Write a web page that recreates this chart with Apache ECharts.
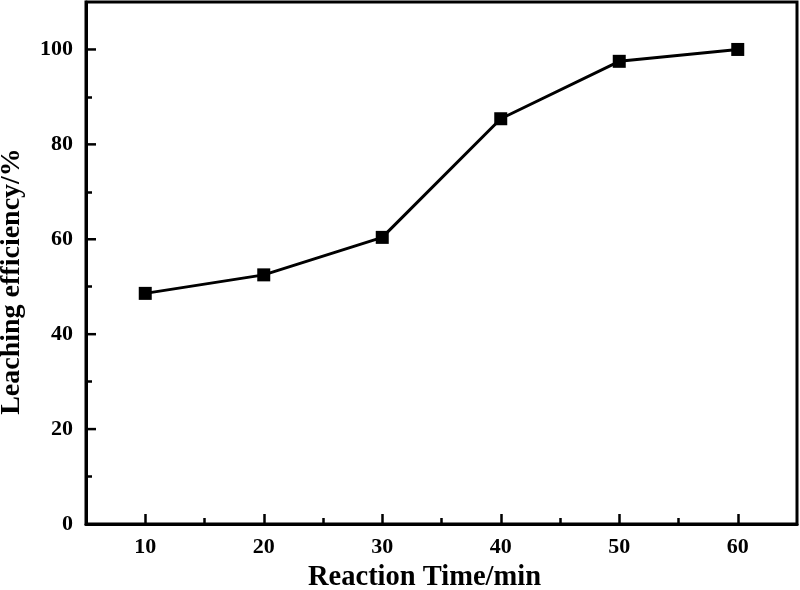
<!DOCTYPE html>
<html>
<head>
<meta charset="utf-8">
<script src="https://cdn.jsdelivr.net/npm/echarts@6/dist/echarts.min.js"></script>
<style>html,body{margin:0;padding:0;background:#fff}#c{width:800px;height:590px}</style>
</head>
<body>
<div id="c"></div>
<script>
var times = [10, 20, 30, 40, 50, 60];
var efficiency = [48.6, 52.5, 60.4, 85.4, 97.5, 100.0];
var xMajorTicks = [10, 20, 30, 40, 50, 60];
var xMinorTicks = [15, 25, 35, 45, 55];
var yLabelValues = [0, 20, 40, 60, 80, 100];
var yMajorTicks = [20, 40, 60, 80, 100];
var yMinorTicks = [10, 30, 50, 70, 90];
var xTitle = 'Reaction Time/min';
var yTitle = 'Leaching efficiency/%';

var font = '"Liberation Serif", "Times New Roman", serif';
var labelStyle = {fontFamily: font, fontWeight: 'bold', fontSize: 22, color: '#000'};
function tickAxis(pos, min, max, values, len) {
  return {
    type: 'value', min: min, max: max, position: pos,
    axisLine: {show: false},
    axisTick: {show: true, inside: true, length: len, lineStyle: {color: '#000', width: 2.5},
      customValues: values},
    axisLabel: {show: false},
    splitLine: {show: false}
  };
}
var chart = echarts.init(document.getElementById('c'), null, {renderer: 'canvas'});
chart.setOption({
  animation: false,
  backgroundColor: '#fff',
  grid: {left: 86, right: 3, top: 2, bottom: 66, show: true, borderColor: '#000', borderWidth: 3,
    outerBoundsMode: 'none', containLabel: false},
  xAxis: [{
    type: 'value', min: 5, max: 65, interval: 10,
    name: xTitle, nameLocation: 'middle', nameGap: 39,
    nameTextStyle: {fontFamily: font, fontWeight: 'bold', fontSize: 28.5, color: '#000', padding: [0, 34, 0, 0]},
    axisLine: {show: true, onZero: false, lineStyle: {color: '#000', width: 3}},
    axisTick: {show: true, inside: true, length: 10, lineStyle: {color: '#000', width: 2.5},
      customValues: xMajorTicks},
    axisLabel: Object.assign({margin: 12, customValues: xMajorTicks}, labelStyle),
    splitLine: {show: false}
  }, tickAxis('bottom', 5, 65, xMinorTicks, 6)],
  yAxis: [{
    type: 'value', min: 0, max: 110, interval: 10,
    name: yTitle, nameLocation: 'middle', nameGap: 60,
    nameTextStyle: {fontFamily: font, fontWeight: 'bold', fontSize: 28, color: '#000', padding: [0, 37, 0, 0]},
    axisLine: {show: true, onZero: false, lineStyle: {color: '#000', width: 3}},
    axisTick: {show: false},
    axisLabel: Object.assign({margin: 13, customValues: yLabelValues}, labelStyle),
    splitLine: {show: false}
  }, tickAxis('left', 0, 110, yMinorTicks, 6)],
  series: [{
    type: 'custom',
    xAxisIndex: 0, yAxisIndex: 0,
    silent: true, clip: false, z: 5,
    data: yMajorTicks.map(function (v) { return [5, v]; }),
    renderItem: function (params, api) {
      var p = api.coord([api.value(0), api.value(1)]);
      return {
        type: 'line',
        shape: {x1: p[0], y1: p[1], x2: p[0] + 10, y2: p[1]},
        style: {stroke: '#000', lineWidth: 2.5}
      };
    }
  }, {
    type: 'line',
    xAxisIndex: 0, yAxisIndex: 0,
    data: times.map(function (t, i) { return [t, efficiency[i]]; }),
    symbol: 'rect', symbolSize: 13,
    lineStyle: {color: '#000', width: 3},
    itemStyle: {color: '#000'}
  }]
});
</script>
</body>
</html>
